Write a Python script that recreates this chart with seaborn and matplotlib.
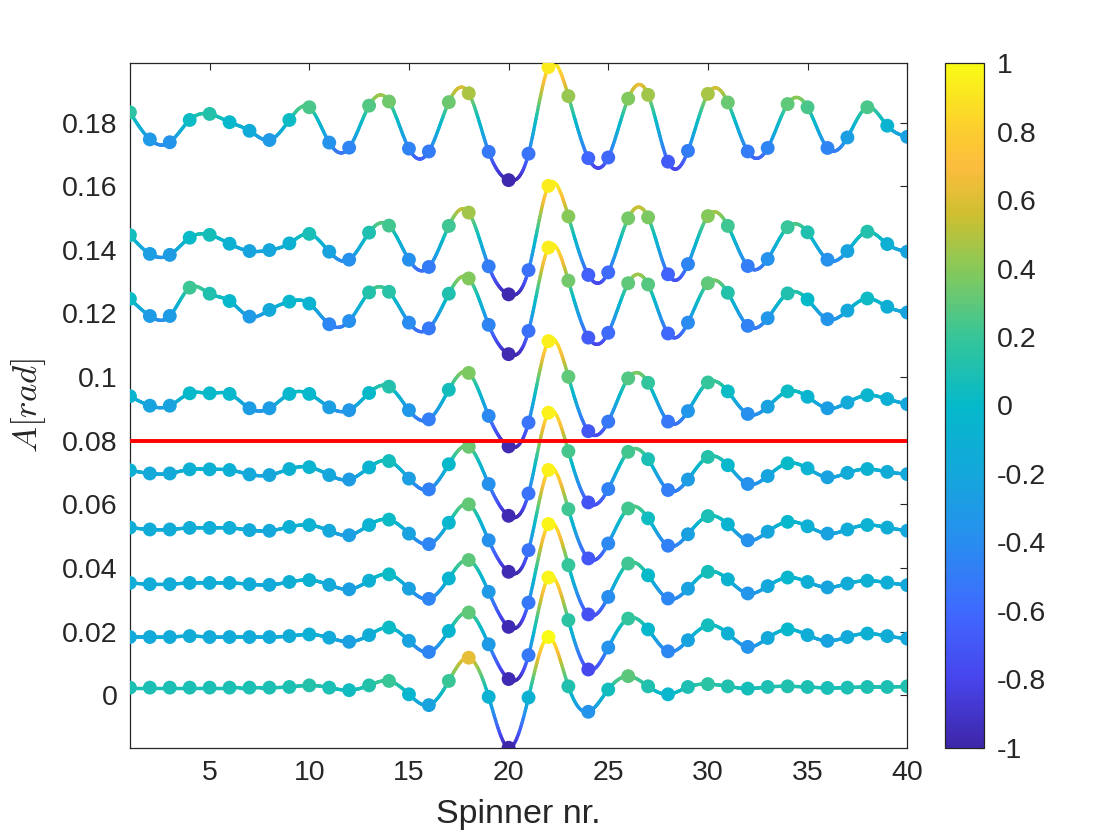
import numpy as np
import seaborn as sns
import matplotlib.pyplot as plt
from matplotlib.collections import LineCollection
from matplotlib.colors import LinearSegmentedColormap, Normalize
from matplotlib.cm import ScalarMappable
from matplotlib.ticker import FuncFormatter


spinner = np.arange(1, 41)

# amplitudes per run, top row first
row_1 = [0.1832, 0.1747, 0.1738, 0.1808, 0.1827, 0.1801, 0.1774, 0.1745, 0.1808, 0.1848,
         0.1737, 0.1721, 0.1853, 0.1866, 0.1718, 0.1709, 0.1864, 0.1892, 0.1708, 0.1619,
         0.1702, 0.1974, 0.1883, 0.1688, 0.1690, 0.1875, 0.1887, 0.1677, 0.1711, 0.1890,
         0.1863, 0.1709, 0.1720, 0.1858, 0.1848, 0.1720, 0.1753, 0.1848, 0.1790, 0.1755]
row_2 = [0.1446, 0.1387, 0.1384, 0.1438, 0.1447, 0.1419, 0.1396, 0.1399, 0.1420, 0.1450,
         0.1394, 0.1369, 0.1454, 0.1476, 0.1369, 0.1346, 0.1475, 0.1517, 0.1348, 0.1260,
         0.1336, 0.1601, 0.1505, 0.1321, 0.1329, 0.1499, 0.1502, 0.1323, 0.1355, 0.1506,
         0.1475, 0.1349, 0.1371, 0.1471, 0.1455, 0.1369, 0.1396, 0.1457, 0.1418, 0.1394]
row_3 = [0.1246, 0.1192, 0.1192, 0.1281, 0.1262, 0.1239, 0.1190, 0.1211, 0.1237, 0.1231,
         0.1166, 0.1176, 0.1266, 0.1268, 0.1171, 0.1153, 0.1262, 0.1310, 0.1164, 0.1072,
         0.1145, 0.1407, 0.1303, 0.1124, 0.1139, 0.1295, 0.1291, 0.1137, 0.1171, 0.1295,
         0.1265, 0.1161, 0.1185, 0.1263, 0.1244, 0.1182, 0.1209, 0.1247, 0.1221, 0.1203]
row_4 = [0.0940, 0.0910, 0.0910, 0.0949, 0.0949, 0.0947, 0.0902, 0.0902, 0.0947, 0.0947,
         0.0905, 0.0896, 0.0950, 0.0970, 0.0896, 0.0867, 0.0960, 0.1013, 0.0878, 0.0782,
         0.0857, 0.1113, 0.1001, 0.0830, 0.0860, 0.0996, 0.0982, 0.0860, 0.0893, 0.0983,
         0.0955, 0.0884, 0.0907, 0.0955, 0.0938, 0.0902, 0.0920, 0.0943, 0.0931, 0.0915]
row_5 = [0.0707, 0.0697, 0.0697, 0.0710, 0.0710, 0.0708, 0.0694, 0.0692, 0.0711, 0.0717,
         0.0692, 0.0678, 0.0716, 0.0736, 0.0681, 0.0647, 0.0726, 0.0781, 0.0664, 0.0564,
         0.0634, 0.0888, 0.0767, 0.0606, 0.0648, 0.0765, 0.0742, 0.0645, 0.0678, 0.0749,
         0.0723, 0.0664, 0.0689, 0.0729, 0.0713, 0.0685, 0.0699, 0.0711, 0.0702, 0.0695]
row_6 = [0.0527, 0.0521, 0.0521, 0.0526, 0.0526, 0.0526, 0.0519, 0.0517, 0.0529, 0.0535,
         0.0517, 0.0503, 0.0535, 0.0552, 0.0508, 0.0475, 0.0542, 0.0600, 0.0487, 0.0388,
         0.0456, 0.0708, 0.0585, 0.0430, 0.0477, 0.0587, 0.0556, 0.0470, 0.0506, 0.0563,
         0.0537, 0.0487, 0.0514, 0.0545, 0.0531, 0.0508, 0.0521, 0.0535, 0.0527, 0.0517]
row_7 = [0.0353, 0.0349, 0.0349, 0.0353, 0.0353, 0.0353, 0.0349, 0.0347, 0.0356, 0.0362,
         0.0347, 0.0333, 0.0360, 0.0380, 0.0335, 0.0303, 0.0367, 0.0425, 0.0325, 0.0215,
         0.0291, 0.0538, 0.0409, 0.0254, 0.0309, 0.0414, 0.0377, 0.0304, 0.0335, 0.0388,
         0.0364, 0.0320, 0.0343, 0.0370, 0.0356, 0.0339, 0.0351, 0.0360, 0.0354, 0.0346]
row_8 = [0.0183, 0.0183, 0.0183, 0.0186, 0.0183, 0.0183, 0.0183, 0.0183, 0.0186, 0.0191,
         0.0181, 0.0168, 0.0189, 0.0213, 0.0171, 0.0136, 0.0202, 0.0260, 0.0160, 0.0051,
         0.0126, 0.0370, 0.0236, 0.0081, 0.0150, 0.0241, 0.0207, 0.0138, 0.0173, 0.0220,
         0.0194, 0.0152, 0.0180, 0.0207, 0.0189, 0.0171, 0.0183, 0.0194, 0.0186, 0.0178]
row_9 = [0.0024, 0.0024, 0.0024, 0.0024, 0.0024, 0.0024, 0.0024, 0.0024, 0.0026, 0.0031,
         0.0024, 0.0016, 0.0031, 0.0045, 0.0003, -0.0031, 0.0045, 0.0118, -0.0005, -0.0165,
         -0.0007, 0.0183, 0.0028, -0.0052, 0.0018, 0.0060, 0.0028, 0.0003, 0.0026, 0.0035,
         0.0028, 0.0021, 0.0026, 0.0028, 0.0026, 0.0023, 0.0024, 0.0026, 0.0026, 0.0028]

rows = [row_1, row_2, row_3, row_4, row_5, row_6, row_7, row_8, row_9]

threshold = 0.08
y_ticks = [0, 0.02, 0.04, 0.06, 0.08, 0.1, 0.12, 0.14, 0.16, 0.18]
x_ticks = [5, 10, 15, 20, 25, 30, 35, 40]
cbar_ticks = [-1, -0.8, -0.6, -0.4, -0.2, 0, 0.2, 0.4, 0.6, 0.8, 1]

# matlab parula, rough
parula = LinearSegmentedColormap.from_list('parula', [
    (0.00, (0.2422, 0.1504, 0.6603)),
    (0.10, (0.2810, 0.2700, 0.9300)),
    (0.20, (0.2450, 0.4150, 0.9960)),
    (0.30, (0.1600, 0.5550, 0.9400)),
    (0.40, (0.0800, 0.6550, 0.8600)),
    (0.50, (0.0200, 0.7250, 0.7900)),
    (0.60, (0.2100, 0.7750, 0.6000)),
    (0.70, (0.5300, 0.7900, 0.3500)),
    (0.78, (0.8100, 0.7500, 0.1900)),
    (0.85, (0.9900, 0.7400, 0.2400)),
    (0.90, (0.9900, 0.8000, 0.1900)),
    (1.00, (0.9769, 0.9839, 0.0805)),
])

INK = (0.15, 0.15, 0.15)


def smooth(x, y, xs):
    # natural cubic spline through the points
    n = len(x)
    h = np.diff(x)
    A = np.zeros((n, n))
    r = np.zeros(n)
    A[0, 0] = A[-1, -1] = 1
    for i in range(1, n - 1):
        A[i, i - 1] = h[i - 1]
        A[i, i] = 2 * (h[i - 1] + h[i])
        A[i, i + 1] = h[i]
        r[i] = 6 * ((y[i + 1] - y[i]) / h[i] - (y[i] - y[i - 1]) / h[i - 1])
    m = np.linalg.solve(A, r)
    k = np.clip(np.searchsorted(x, xs) - 1, 0, n - 2)
    hk = h[k]
    a = x[k + 1] - xs
    b = xs - x[k]
    return (m[k] * a ** 3 / (6 * hk) + m[k + 1] * b ** 3 / (6 * hk)
            + (y[k] / hk - m[k] * hk / 6) * a + (y[k + 1] / hk - m[k + 1] * hk / 6) * b)


def draw_row(ax, values):
    x = spinner.astype(float)
    y = np.array(values)
    xs = np.linspace(x[0], x[-1], 40 * 25)
    ys = smooth(x, y, xs)
    lo, hi = ys.min(), ys.max()

    def scale(v):
        return 2 * (v - lo) / (hi - lo) - 1

    pts = np.column_stack([xs, ys]).reshape(-1, 1, 2)
    segs = np.concatenate([pts[:-1], pts[1:]], axis=1)
    lc = LineCollection(segs, cmap=parula, norm=Normalize(-1, 1), linewidths=2.4,
                        capstyle='round', zorder=2)
    lc.set_array(scale((ys[:-1] + ys[1:]) / 2))
    ax.add_collection(lc)

    sns.scatterplot(x=x, y=y, hue=scale(y), palette=parula, hue_norm=(-1, 1), s=100,
                    linewidth=0, legend=False, ax=ax, zorder=3)


def create_graph():
    sns.set_theme(style='white')
    plt.rcParams['font.family'] = ['Liberation Sans', 'DejaVu Sans']
    plt.rcParams['mathtext.fontset'] = 'cm'
    plt.rcParams['axes.unicode_minus'] = False

    fig = plt.figure(figsize=(11.2, 8.4), dpi=100)
    ax = fig.add_axes([0.116, 0.110, 0.694, 0.8146])
    cax = fig.add_axes([0.8435, 0.110, 0.0351, 0.8146])

    for values in rows:
        draw_row(ax, values)

    ax.axhline(threshold, color='red', lw=2.8, zorder=5)

    ax.set_xlim(1, 40)
    ax.set_ylim(-0.01645, 0.1986)
    ax.set_xticks(x_ticks)
    ax.set_yticks(y_ticks)
    ax.yaxis.set_major_formatter(FuncFormatter(lambda v, p: '%g' % round(v, 4)))
    ax.tick_params(direction='in', length=5, width=0.8, labelsize=20.5, colors=INK,
                   top=True, right=True, pad=9)
    for s in ax.spines.values():
        s.set_color(INK)
        s.set_linewidth(0.9)
    ax.set_xlabel('Spinner nr.', fontsize=24.5, color=INK)
    ax.xaxis.set_label_coords(0.5, -0.075)
    ax.set_ylabel('$A[rad]$', fontsize=25, color=INK)
    ax.yaxis.set_label_coords(-0.105, 0.5)

    cb = fig.colorbar(ScalarMappable(norm=Normalize(-1, 1), cmap=parula), cax=cax)
    cb.set_ticks(cbar_ticks)
    cb.ax.yaxis.set_major_formatter(FuncFormatter(lambda v, p: '%g' % round(v, 2)))
    cb.ax.tick_params(direction='in', length=5, width=0.8, labelsize=20.5, colors=INK, pad=9)
    cb.outline.set_edgecolor(INK)
    cb.outline.set_linewidth(0.9)

    fig.savefig('out.png', dpi=100)


if __name__ == '__main__':
    create_graph()
